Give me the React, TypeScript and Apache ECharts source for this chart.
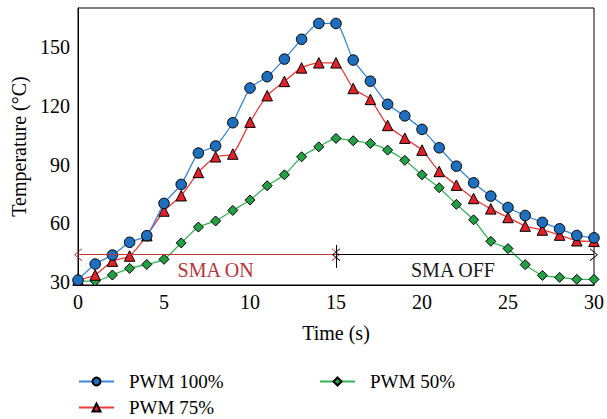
import React, { useEffect, useRef } from "react";
import * as echarts from "echarts";

const times = [0,1,2,3,4,5,6,7,8,9,10,11,12,13,14,15,16,17,18,19,20,21,22,23,24,25,26,27,28,29,30];
const pwm100 = [31,39.2,43.8,50.3,53.7,70.2,79.9,95.9,99.5,111.4,129.1,134.9,143.9,154,162.1,162.1,143.4,132.6,120.8,114.9,108,98.6,89.2,80.7,73.9,68.1,64,60.5,57.2,53.8,52.6];
const pwm75 = [31,33.6,40.7,43.3,53.7,66.3,74.1,86,94,95.4,111.7,125.2,132.5,139.4,142,142,128.9,123.3,110,103.5,97.4,86.5,79.5,72.7,67.4,63,58.6,56.6,54,51.1,50.8];
const pwm50 = [30.5,30.5,33.6,37,39,41.6,50,58.1,61.2,66.6,71.9,79.2,84.8,94,99.1,103.4,102.2,100.8,97.4,92.2,84.8,78.2,69.7,61.8,50.8,47.1,38.9,33.4,32.4,31.4,31.4];
const yTicks = [30, 60, 90, 120, 150];
const seriesNames = ["PWM 100%", "PWM 75%", "PWM 50%"];
const onRange = [0, 15];
const offRange = [15, 30];
const arrowLevel = 44;
const dividerRange = [37.3, 49];
const onLabel = { text: "SMA ON", t: 8.0, v: 36.2 };
const offLabel = { text: "SMA OFF", t: 21.8, v: 36.2 };

const FONT = "'Liberation Serif', 'DejaVu Serif', serif";
const FS = 20;
const chevron = "path://M0,10 L5,0 L10,10 L9.1,10 L5,1.6 L0.9,10 Z";

export default function App() {
  const ref = useRef<HTMLDivElement>(null);
  useEffect(() => {
    if (!ref.current) return;
    const chart = echarts.init(ref.current, null, { renderer: "svg" });
    const pts = (arr: number[]) => times.map((t, i) => [t, arr[i]]);
    const arrowLine = (range: number[], color: string) => ({
      symbol: [chevron, chevron],
      symbolSize: [13, 8],
      silent: true,
      lineStyle: { color, width: 1, type: "solid" },
      label: { show: false },
      data: [[{ coord: [range[0], arrowLevel] }, { coord: [range[1], arrowLevel] }]],
    });
    const textPoint = (lab: { text: string; t: number; v: number }, color: string) => ({
      silent: true,
      symbol: "circle",
      symbolSize: 0,
      itemStyle: { color: "transparent" },
      label: {
        show: true,
        position: "inside",
        formatter: lab.text,
        color,
        fontFamily: FONT,
        fontSize: FS,
      },
      data: [{ coord: [lab.t, lab.v] }],
    });
    const legendText = { fontFamily: FONT, fontSize: 19, color: "#000", padding: [0, 0, 0, 10] };
    const legendBase = { itemWidth: 35, itemHeight: 10, padding: 0, textStyle: legendText };
    chart.setOption({
      animation: false,
      grid: { left: 78, right: 8, top: 8, bottom: 134, show: true, borderColor: "#000", borderWidth: 1 },
      xAxis: {
        type: "value",
        min: 0,
        max: 30,
        interval: 5,
        name: "Time (s)",
        nameLocation: "middle",
        nameGap: 38,
        nameTextStyle: { fontFamily: FONT, fontSize: FS, color: "#000" },
        axisLine: { lineStyle: { color: "#000" } },
        axisTick: { show: false },
        splitLine: { show: false },
        axisLabel: { fontFamily: FONT, fontSize: FS, color: "#000", margin: 7 },
      },
      yAxis: {
        type: "value",
        min: 28.5,
        max: 170,
        name: "Temperature (°C)",
        nameLocation: "middle",
        nameRotate: 90,
        nameGap: 47,
        nameTextStyle: { fontFamily: FONT, fontSize: FS, color: "#000" },
        axisLine: { show: true, lineStyle: { color: "#000" } },
        axisTick: { show: false },
        splitLine: { show: false },
        axisLabel: { fontFamily: FONT, fontSize: FS, color: "#000", margin: 8, customValues: yTicks },
      },
      legend: [
        { ...legendBase, data: [seriesNames[0]], left: 78, top: 372 },
        { ...legendBase, data: [seriesNames[1]], left: 78, top: 398 },
        { ...legendBase, data: [seriesNames[2]], left: 319, top: 372 },
      ],
      series: [
        {
          name: seriesNames[0],
          type: "line",
          data: pts(pwm100),
          smooth: 0.2,
          symbol: "circle",
          symbolSize: 10.5,
          lineStyle: { color: "#3a88d8", width: 1.3 },
          itemStyle: { color: "#1e6fbe", borderColor: "#000", borderWidth: 1 },
          z: 4,
          markLine: arrowLine(onRange, "#c0353a"),
          markPoint: textPoint(onLabel, "#b8333a"),
        },
        {
          name: seriesNames[1],
          type: "line",
          data: pts(pwm75),
          smooth: 0.2,
          symbol: "triangle",
          symbolSize: 10.5,
          lineStyle: { color: "#ee3a3a", width: 1.3 },
          itemStyle: { color: "#e0232a", borderColor: "#000", borderWidth: 1 },
          z: 3,
          markLine: arrowLine(offRange, "#000"),
          markPoint: textPoint(offLabel, "#1a1a1a"),
        },
        {
          name: seriesNames[2],
          type: "line",
          data: pts(pwm50),
          smooth: 0.2,
          symbol: "diamond",
          symbolSize: 10,
          lineStyle: { color: "#35b557", width: 1.3 },
          itemStyle: { color: "#23a046", borderColor: "#000", borderWidth: 1 },
          z: 2,
          markLine: {
            symbol: ["none", "none"],
            silent: true,
            lineStyle: { color: "#000", width: 1, type: "solid" },
            label: { show: false },
            data: [[{ coord: [15, dividerRange[0]] }, { coord: [15, dividerRange[1]] }]],
          },
        },
      ],
    });
    return () => chart.dispose();
  }, []);
  return <div ref={ref} style={{ width: 607, height: 419, position: "absolute", left: 0, top: 0 }} />;
}
